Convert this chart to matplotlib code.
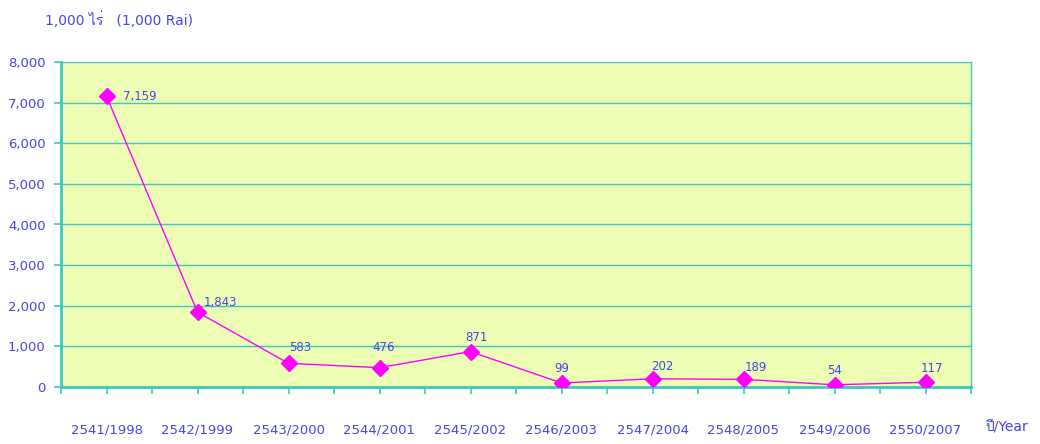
import matplotlib
matplotlib.use('Agg')
import matplotlib.pyplot as plt
from matplotlib import font_manager
from matplotlib.ft2font import FT2Font

years = ['2541/1998', '2542/1999', '2543/2000', '2544/2001', '2545/2002',
         '2546/2003', '2547/2004', '2548/2005', '2549/2006', '2550/2007']
values = [7159, 1843, 583, 476, 871, 99, 202, 189, 54, 117]
yticks = [0, 1000, 2000, 3000, 4000, 5000, 6000, 7000, 8000]

# find some installed font that has Thai glyphs, for the unit label
thai_font = None
for f in font_manager.fontManager.ttflist:
    try:
        if 0x0E44 in FT2Font(f.fname).get_charmap():
            thai_font = f.name
            break
    except Exception:
        pass
families = ['DejaVu Sans'] + ([thai_font] if thai_font else [])

blue = '#4646e6'
teal = '#3cc8c0'
magenta = '#ff00ff'

fig = plt.figure(figsize=(10.4, 4.44), dpi=100)
ax = fig.add_axes([61 / 1040, 57 / 444, 910 / 1040, 325 / 444])
ax.set_facecolor('#eefdb4')

x = list(range(len(values)))
ax.plot(x, values, color=magenta, lw=1, marker='D', markersize=8, zorder=3)

# label offsets in pixels (dx, dy)
offsets = [(16, 0), (6, 10), (12, 16), (4, 20), (6, 14), (0, 14), (10, 12), (12, 12), (0, 14), (6, 14)]
for xi, v, (dx, dy) in zip(x, values, offsets):
    ha = 'left' if xi < 2 else 'center'
    ax.annotate(f'{v:,}', (xi, v), xytext=(dx * 0.72, dy * 0.72), textcoords='offset points',
                ha=ha, va='center', color=blue, fontsize=8.5)

ax.set_xlim(-0.5, len(values) - 0.5)
ax.set_ylim(0, 8000)
ax.set_yticks(yticks)
ax.set_yticklabels([f'{t:,}' for t in yticks])
ax.set_xticks([i - 0.5 for i in range(len(values) + 1)])
ax.set_xticklabels([])
ax.set_xticks(x, minor=True)
ax.set_xticklabels(years, minor=True)
ax.tick_params(axis='x', which='both', length=5, color=teal, width=1.2,
               labelcolor=blue, labelsize=9.5, pad=21)
ax.tick_params(axis='y', length=5, color=teal, width=1.2, labelcolor=blue, labelsize=9.5, pad=6)
ax.grid(axis='y', color=teal, lw=1)
for s in ['left', 'bottom']:
    ax.spines[s].set_color(teal)
    ax.spines[s].set_linewidth(2)
ax.spines['right'].set_color(teal)
ax.spines['right'].set_linewidth(1)
ax.spines['top'].set_visible(False)

fig.text(45 / 1040, 1 - 20 / 444, '1,000 ไร่   (1,000 Rai)', color=blue, fontsize=10,
         va='center', family=families)
fig.text(985 / 1040, 1 - 426 / 444, 'ปี/Year', color=blue, fontsize=10,
         va='center', family=families)

fig.savefig('out.png', dpi=100)
